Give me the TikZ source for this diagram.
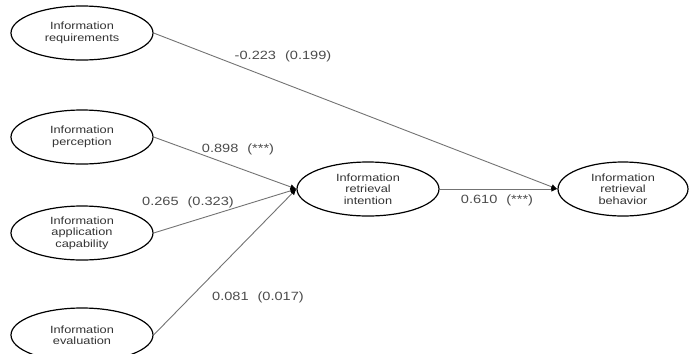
\documentclass[tikz,border=0pt]{standalone}
\usepackage{pgf,tikz}
\usepackage{fontspec}
\setmainfont[FakeStretch=1.22]{Liberation Sans}
\usetikzlibrary{shapes.geometric}
\usetikzlibrary{arrows.meta}

\tikzset{
  factor/.style={ellipse, draw=black, line width=1.2bp, minimum width=142bp, minimum height=54bp,
    inner sep=0pt, align=center, text=black!80, font=\fontsize{10.5}{11.5}\selectfont},
  path/.style={draw=black!55, line width=0.9bp, -{Latex[length=6bp,width=5.5bp,black]}},
  coef/.style={text=black!70, font=\fontsize{12}{13}\selectfont, inner sep=0pt}
}
\newcommand{\gap}{\hspace{0.75em}}

\begin{document}
\begin{tikzpicture}[x=1bp,y=-1bp]
\useasboundingbox (0,0) rectangle (689,353);

% left ones
\node[factor] (req)  at (82,33)  {Information\\requirements};
\node[factor] (perc) at (82,137) {Information\\perception};
\node[factor] (app)  at (82,233) {Information\\application\\capability};
\node[factor] (eval) at (82,335) {Information\\evaluation};

% middle and right one
\node[factor] (intent) at (368,189) {Information\\retrieval\\intention};
\node[factor, minimum width=130bp] (behav) at (623,189) {Information\\retrieval\\behavior};

\draw[path] (req.east)  -- (behav.west);
\draw[path] (perc.east) -- (intent.west);
\draw[path] (app.east)  -- (intent.west);
\draw[path] (eval.east) -- (intent.west);
\draw[path] (intent.east) -- (behav.west);

\node[coef] (c1) at (283,56)  {-0.223\gap(0.199)};
\node[coef] (c2) at (238,149) {0.898\gap(***)};
\node[coef] (c3) at (188,202) {0.265\gap(0.323)};
\node[coef] (c4) at (258,297) {0.081\gap(0.017)};
\node[coef] (c5) at (497,200) {0.610\gap(***)};
\end{tikzpicture}
\end{document}
